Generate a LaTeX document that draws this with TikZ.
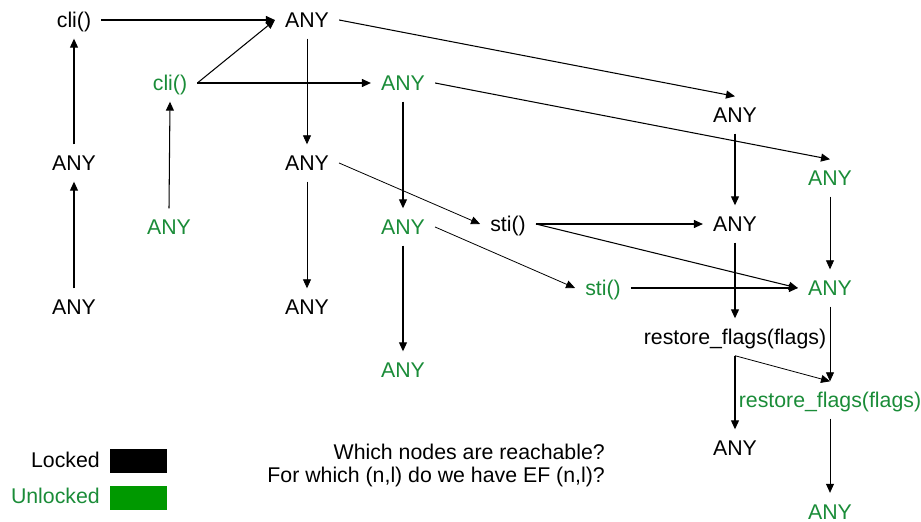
\documentclass[tikz,border=0pt]{standalone}
\usepackage{fontspec}
\setmainfont{Liberation Sans}
\usetikzlibrary{arrows.meta}
\definecolor{unlockedtxt}{RGB}{26,140,56}
\definecolor{unlockedbox}{RGB}{0,153,0}
\tikzset{
  st/.style={font=\fontsize{21.3}{25}\selectfont, inner xsep=10pt, inner ysep=11pt,
             text height=15pt, text depth=0pt, anchor=center},
  lk/.style={st, text=black},
  ul/.style={st, text=unlockedtxt},
  edge/.style={line width=1.05pt, -{Triangle[length=9pt,width=8pt]}},
  thinedge/.style={line width=0.8pt, -{Triangle[length=9pt,width=8pt]}},
  legendtxt/.style={font=\fontsize{21.3}{25}\selectfont, inner sep=0pt, anchor=east},
  question/.style={font=\fontsize{21.3}{25}\selectfont, inner sep=0pt, anchor=east}
}
\begin{document}
\begin{tikzpicture}[x=1pt, y=-1pt]
\useasboundingbox (0,0) rectangle (921,522);

% left column (locked)
\node[lk] (cliL)  at (74,20)  {cli()};
\node[lk] (anyL1) at (74,163) {ANY};
\node[lk] (anyL2) at (74,307) {ANY};

% green cli branch
\node[ul] (cliU)  at (170,83)  {cli()};
\node[ul] (anyU0) at (169,227) {ANY};

% middle column
\node[lk] (a0) at (307,20)  {ANY};
\node[lk] (a1) at (307,163) {ANY};
\node[lk] (a2) at (307,307) {ANY};

\node[ul] (g1) at (403,83)  {ANY};
\node[ul] (g2) at (403,227) {ANY};
\node[ul] (g3) at (403,370) {ANY};

% sti nodes
\node[lk] (stiL) at (508,224) {sti()};
\node[ul] (stiU) at (603,288) {sti()};

% right columns
\node[lk] (b1) at (735,115) {ANY};
\node[lk] (b2) at (735,224) {ANY};
\node[lk] (rb) at (735,337) {restore\_flags(flags)};
\node[lk] (b3) at (735,448) {ANY};

\node[ul] (c1) at (830,178) {ANY};
\node[ul] (c2) at (830,288) {ANY};
\node[ul] (rg) at (830,400) {restore\_flags(flags)};
\node[ul] (c3) at (830,511.5) {ANY};

% connectors
\draw[edge] (cliL.east) -- (a0.west);
\draw[edge] (anyL1.north) -- (cliL.south);
\draw[edge] (anyL2.north) -- (anyL1.south);
\draw[edge] (cliU.east) -- (a0.west);
\draw[edge] (cliU.east) -- (g1.west);
\draw[edge] (anyU0.north) -- (cliU.south);
\draw[thinedge] (a0.south) -- (a1.north);
\draw[edge] (a0.east) -- (b1.north);
\draw[edge] (g1.east) -- (c1.north);
\draw[edge] (g1.south) -- (g2.north);
\draw[thinedge] (a1.south) -- (a2.north);
\draw[thinedge] (a1.east) -- (stiL.west);
\draw[edge] (g2.south) -- (g3.north);
\draw[thinedge] (g2.east) -- (stiU.west);
\draw[edge] (b1.south) -- (b2.north);
\draw[edge] (stiL.east) -- (b2.west);
\draw[edge] (stiL.east) -- (c2.west);
\draw[thinedge] (c1.south) -- (c2.north);
\draw[edge] (b2.south) -- (rb.north);
\draw[edge] (stiU.east) -- (c2.west);
\draw[thinedge] (c2.south) -- (rg.north);
\draw[thinedge] (rb.south) -- (rg.north);
\draw[edge] (rb.south) -- (b3.north);
\draw[thinedge] (rg.south) -- (c3.north);

% legend
\node[legendtxt] (lockedlbl) at (100,460) {Locked};
\node[legendtxt, text=unlockedtxt] (unlockedlbl) at (100,496) {Unlocked};
\fill[black] (110,449) rectangle (167,473);
\fill[unlockedbox] (110,486) rectangle (167,510);

% questions
\node[question] (q1) at (605,452) {Which nodes are reachable?};
\node[question] (q2) at (605,477) {For which (n,l) do we have EF (n,l)?};
\end{tikzpicture}
\end{document}
